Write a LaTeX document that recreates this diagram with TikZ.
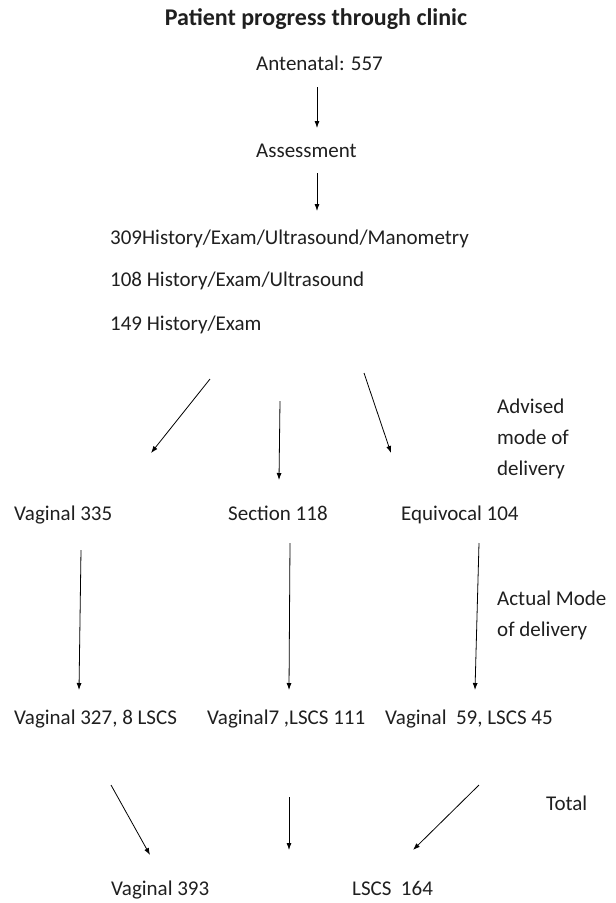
\documentclass[tikz,border=0pt]{standalone}
\usepackage{fontspec}
\setmainfont{Carlito}
\usetikzlibrary{arrows.meta}
\tikzset{
  lbl/.style={anchor=mid west, inner sep=0pt, font=\fontsize{21}{30}\selectfont, text=black!88},
  multi/.style={anchor=north west, inner sep=0pt, align=left, font=\fontsize{21}{31}\selectfont, text=black!88},
  arr/.style={line width=0.8pt, -{Latex[length=7pt,width=5pt]}}
}
\begin{document}
\begin{tikzpicture}[x=1pt,y=-1pt]
\useasboundingbox (0,0) rectangle (616,903);
% texts
\node[anchor=mid, inner sep=0pt, font=\fontsize{24}{28}\selectfont\bfseries, text=black!88] (title) at (316,23) {Patient progress through clinic};
\node[lbl] (ante) at (256,68) {Antenatal: 557};
\node[lbl] (assess) at (256,155) {Assessment};
\node[lbl] (h309) at (110,242) {309History/Exam/Ultrasound/Manometry};
\node[lbl] (h108) at (110,284) {108 History/Exam/Ultrasound};
\node[lbl] (h149) at (110,328) {149 History/Exam};
\node[multi] (advised) at (497,399) {Advised\\mode of\\delivery};
\node[lbl] (vag) at (14,518) {Vaginal 335};
\node[lbl] (sec) at (228,518) {Section 118};
\node[lbl] (equ) at (401,518) {Equivocal 104};
\node[multi] (actual) at (497,591) {Actual Mode\\of delivery};
\node[lbl] (r1) at (14,722) {Vaginal 327, 8 LSCS};
\node[lbl] (r2) at (207,722) {Vaginal7 ,LSCS 111};
\node[lbl] (r3) at (385,722) {Vaginal\ \ 59, LSCS 45};
\node[lbl] (total) at (546,808) {Total};
\node[lbl] (tv) at (111,893) {Vaginal 393};
\node[lbl] (tl) at (352,893) {LSCS\ \ 164};
% arrow endpoints
\coordinate (a1s) at (317,87);  \coordinate (a1e) at (317,128);
\coordinate (a2s) at (317,173); \coordinate (a2e) at (317,211);
\coordinate (dls) at (210,379); \coordinate (dle) at (151,453);
\coordinate (dms) at (280,401); \coordinate (dme) at (279,480);
\coordinate (drs) at (364,373); \coordinate (dre) at (391,453);
\coordinate (vls) at (81,550);  \coordinate (vle) at (79,690);
\coordinate (vms) at (290,543); \coordinate (vme) at (289,690);
\coordinate (vrs) at (479,543); \coordinate (vre) at (475,690);
\coordinate (bls) at (111,785); \coordinate (ble) at (150,855);
\coordinate (bms) at (289,797); \coordinate (bme) at (289,850);
\coordinate (brs) at (479,785); \coordinate (bre) at (413,850);
% arrows
\draw[arr] (a1s) -- (a1e);
\draw[arr] (a2s) -- (a2e);
\draw[arr] (dls) -- (dle);
\draw[arr] (dms) -- (dme);
\draw[arr] (drs) -- (dre);
\draw[arr] (vls) -- (vle);
\draw[arr] (vms) -- (vme);
\draw[arr] (vrs) -- (vre);
\draw[arr] (bls) -- (ble);
\draw[arr] (bms) -- (bme);
\draw[arr] (brs) -- (bre);
\end{tikzpicture}
\end{document}
